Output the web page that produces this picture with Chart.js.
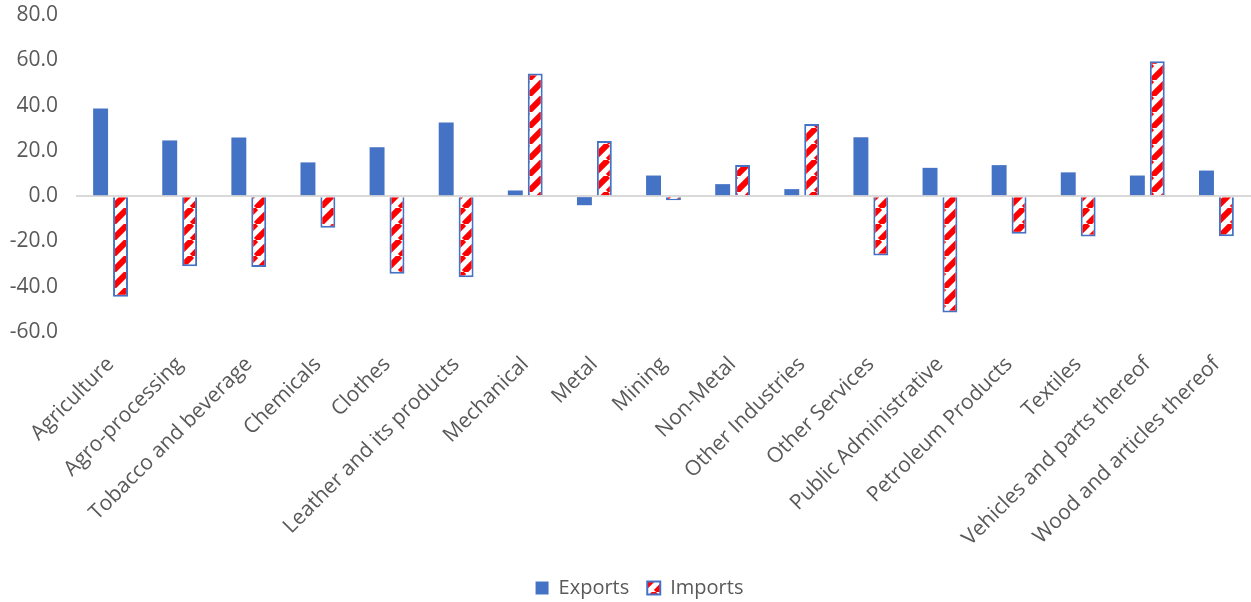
<!DOCTYPE html>
<html>
<head>
<meta charset="utf-8">
<script src="https://cdn.jsdelivr.net/npm/chart.js@4.4.1/dist/chart.umd.min.js"></script>
<style>
  html, body { margin: 0; padding: 0; background: #fff; }
  #wrap { width: 1251px; height: 602px; position: relative; }
</style>
</head>
<body>
<div id="wrap"><canvas id="chart"></canvas></div>
<script>
const sectors = [
  'Agriculture', 'Agro-processing', 'Tobacco and beverage', 'Chemicals', 'Clothes',
  'Leather and its products', 'Mechanical', 'Metal', 'Mining', 'Non-Metal',
  'Other Industries', 'Other Services', 'Public Administrative', 'Petroleum Products',
  'Textiles', 'Vehicles and parts thereof', 'Wood and articles thereof'
];
const exportsData = [38.7, 24.6, 25.9, 14.9, 21.6, 32.5, 2.5, -4.0, 9.1, 5.3, 3.1, 26.0, 12.5, 13.7, 10.5, 9.1, 11.3];
const importsData = [-44.4, -31.0, -31.3, -14.0, -34.3, -35.8, 54.2, 24.3, -1.8, 13.8, 31.9, -26.2, -51.4, -16.6, -17.8, 59.6, -17.7];
const yTicks = { min: -60, max: 80, step: 20 };

const BLUE = '#4472C4';
const TEXT = '#595959';

// red "/" hatch on white for the imports bars
function hatch() {
  const s = 16;
  const c = document.createElement('canvas');
  c.width = s; c.height = s;
  const g = c.getContext('2d');
  g.fillStyle = '#ffffff';
  g.fillRect(0, 0, s, s);
  g.strokeStyle = '#ff0000';
  g.lineWidth = 6;
  for (const k of [-s, 0, s]) {
    g.beginPath();
    g.moveTo(k, s);
    g.lineTo(k + s, 0);
    g.stroke();
  }
  return g.createPattern(c, 'repeat');
}

// nudge the legend a little right of the canvas centre
const legendShift = {
  id: 'legendShift',
  afterLayout(chart) {
    if (chart.legend) {
      chart.legend.left += 9;
      chart.legend.right += 9;
    }
  }
};

Chart.defaults.font.family = "'Open Sans', sans-serif";
Chart.defaults.color = TEXT;

new Chart(document.getElementById('chart'), {
  type: 'bar',
  data: {
    labels: sectors,
    datasets: [
      {
        label: 'Exports',
        data: exportsData,
        backgroundColor: BLUE,
        borderWidth: 0
      },
      {
        label: 'Imports',
        data: importsData,
        backgroundColor: hatch(),
        borderColor: BLUE,
        borderWidth: 2
      }
    ]
  },
  plugins: [legendShift],
  options: {
    responsive: true,
    maintainAspectRatio: false,
    animation: false,
    categoryPercentage: 0.576,
    barPercentage: 0.75,
    layout: { padding: { top: 15, right: -10, left: 0, bottom: 0 } },
    plugins: {
      tooltip: { enabled: false },
      legend: {
        position: 'bottom',
        maxHeight: 42,
        labels: {
          boxWidth: 13,
          boxHeight: 13,
          padding: 18,
          color: TEXT,
          font: { size: 20 }
        }
      }
    },
    scales: {
      x: {
        grid: { display: false, drawTicks: false },
        border: { display: false },
        ticks: {
          maxRotation: 45,
          minRotation: 45,
          autoSkip: false,
          padding: 20,
          color: TEXT,
          font: { size: 21 }
        },
        afterFit: scale => {
          scale.height = 228;
          scale.paddingLeft = 0;
          scale.paddingRight = 0;
        }
      },
      y: {
        min: yTicks.min,
        max: yTicks.max,
        border: { display: false },
        grid: {
          drawTicks: false,
          lineWidth: 2,
          color: ctx => (ctx.tick && ctx.tick.value === 0 ? '#d9d9d9' : 'rgba(0,0,0,0)')
        },
        ticks: {
          stepSize: yTicks.step,
          padding: 18,
          color: TEXT,
          font: { size: 21 },
          callback: v => v.toFixed(1)
        },
        afterFit: scale => {
          scale.width = 76;
          scale.paddingTop = 0;
          scale.paddingBottom = 0;
        }
      }
    }
  }
});
</script>
</body>
</html>
